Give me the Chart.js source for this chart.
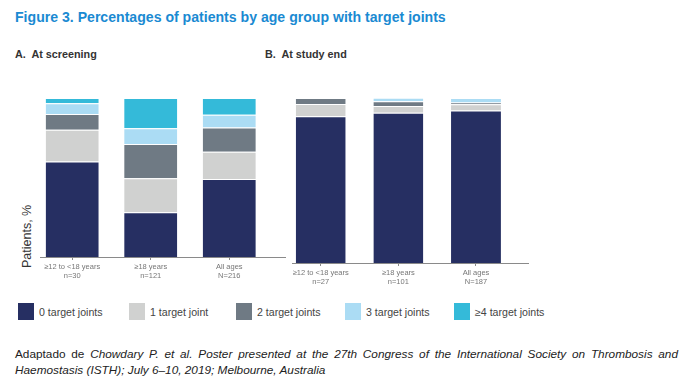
<!DOCTYPE html>
<html>
<head>
<meta charset="utf-8">
<script src="https://cdn.jsdelivr.net/npm/chart.js@4"></script>
<style>
  body { margin: 0; background: #fff; width: 691px; height: 385px; position: relative; overflow: hidden;
         font-family: "Liberation Sans", Arial, sans-serif; }
  .title { position: absolute; left: 15px; top: 9px; font-weight: bold; font-size: 14.1px; color: #1a8ad2; white-space: nowrap; }
  .panel { position: absolute; top: 48px; font-weight: bold; font-size: 10.8px; color: #333; white-space: nowrap; }
  .ytitle { position: absolute; left: 20px; top: 268px; transform-origin: 0 0; transform: rotate(-90deg);
            font-size: 12.5px; color: #333; white-space: nowrap; }
  .wrap { position: absolute; }
  #legend { position: absolute; left: 18px; top: 303px; display: flex; font-size: 10.6px; color: #444; white-space: nowrap; }
  #legend .item { display: flex; align-items: center; flex: none; }
  #legend .sw { width: 16px; height: 17px; margin-right: 5px; flex: none; }
  .note { position: absolute; left: 15px; top: 346px; width: 663px; font-size: 11.8px; line-height: 16px;
          color: #222; text-align: justify; text-align-last: left; }
</style>
</head>
<body>
<div class="title">Figure 3. Percentages of patients by age group with target joints</div>
<div class="panel" style="left:15px">A.&nbsp; At screening</div>
<div class="panel" style="left:265px">B.&nbsp; At study end</div>
<div class="ytitle">Patients, %</div>
<div class="wrap" style="left:0;top:88px;width:292px;height:200px"><canvas id="chartA"></canvas></div>
<div class="wrap" style="left:285px;top:88px;width:250px;height:200px"><canvas id="chartB"></canvas></div>
<div id="legend"></div>
<div class="note">Adaptado de <i>Chowdary P. et al. Poster presented at the 27th Congress of the International Society on Thrombosis and Haemostasis (ISTH); July 6–10, 2019; Melbourne, Australia</i></div>
<script>
const seriesNames = ["0 target joints", "1 target joint", "2 target joints", "3 target joints", "≥4 target joints"];
const seriesColors = ["#262f62", "#d0d1d0", "#6f7a84", "#abdcf4", "#34bad9"];

// A. At screening
const categoriesA = [["≥12 to <18 years", "n=30"], ["≥18 years", "n=121"], ["All ages", "N=216"]];
const screening0 = [60.0, 28.1, 49.1];
const screening1 = [20.0, 21.5, 17.1];
const screening2 = [10.0, 21.5, 15.3];
const screening3 = [6.7, 9.9, 7.9];
const screening4 = [3.3, 19.0, 10.6];

// B. At study end
const categoriesB = [["≥12 to <18 years", "n=27"], ["≥18 years", "n=101"], ["All ages", "N=187"]];
const studyEnd0 = [88.9, 91.1, 92.5];
const studyEnd1 = [7.4, 4.0, 3.7];
const studyEnd2 = [3.7, 3.0, 1.1];
const studyEnd3 = [0, 2.0, 2.7];
const studyEnd4 = [0, 0, 0];

function buildChart(canvasId, categories, seriesList, opts) {
  const datasets = seriesList.map((vals, i) => ({
    label: seriesNames[i],
    data: vals.map((v, j) => ({ x: j, y: v })),
    backgroundColor: seriesColors[i],
    borderColor: "rgba(255,255,255,0.55)",
    borderWidth: { top: 1, left: 0, right: 0, bottom: 0 },
    borderSkipped: false,
    categoryPercentage: 1,
    barPercentage: opts.barPct
  }));

  return new Chart(document.getElementById(canvasId), {
    type: "bar",
    data: { datasets },
    options: {
      responsive: true,
      maintainAspectRatio: false,
      animation: false,
      layout: { padding: opts.padding },
      plugins: { legend: { display: false }, tooltip: { enabled: false } },
      scales: {
        x: {
          type: "linear",
          stacked: true,
          offset: false,
          min: opts.xMin,
          max: opts.xMax,
          grid: { display: true, drawOnChartArea: false, drawTicks: true, tickLength: 3, offset: false, color: "#8a8a8a" },
          border: { display: true, color: "#8a8a8a", width: 1 },
          ticks: {
            stepSize: 1,
            includeBounds: false,
            autoSkip: false,
            maxRotation: 0,
            padding: 2,
            color: "#777",
            font: { family: "Liberation Sans, Arial, sans-serif", size: 7.5 },
            callback: v => categories[v] || ""
          }
        },
        y: { stacked: true, min: 0, max: 100, display: false }
      }
    }
  });
}

buildChart("chartA", categoriesA, [screening0, screening1, screening2, screening3, screening4], {
  padding: { left: 40, right: 7, top: 10, bottom: 6 },
  xMin: -0.41, xMax: 2.71, barPct: 0.676
});
buildChart("chartB", categoriesB, [studyEnd0, studyEnd1, studyEnd2, studyEnd3, studyEnd4], {
  padding: { left: 7, right: 7, top: 10, bottom: 0 },
  xMin: -0.37, xMax: 2.67, barPct: 0.643
});

// legend
const legend = document.getElementById("legend");
const widths = [111, 107, 109, 109, 0];
seriesNames.forEach((name, i) => {
  const item = document.createElement("div");
  item.className = "item";
  if (widths[i]) item.style.width = widths[i] + "px";
  item.innerHTML = `<span class="sw" style="background:${seriesColors[i]}"></span><span>${name}</span>`;
  legend.appendChild(item);
});
</script>
</body>
</html>
